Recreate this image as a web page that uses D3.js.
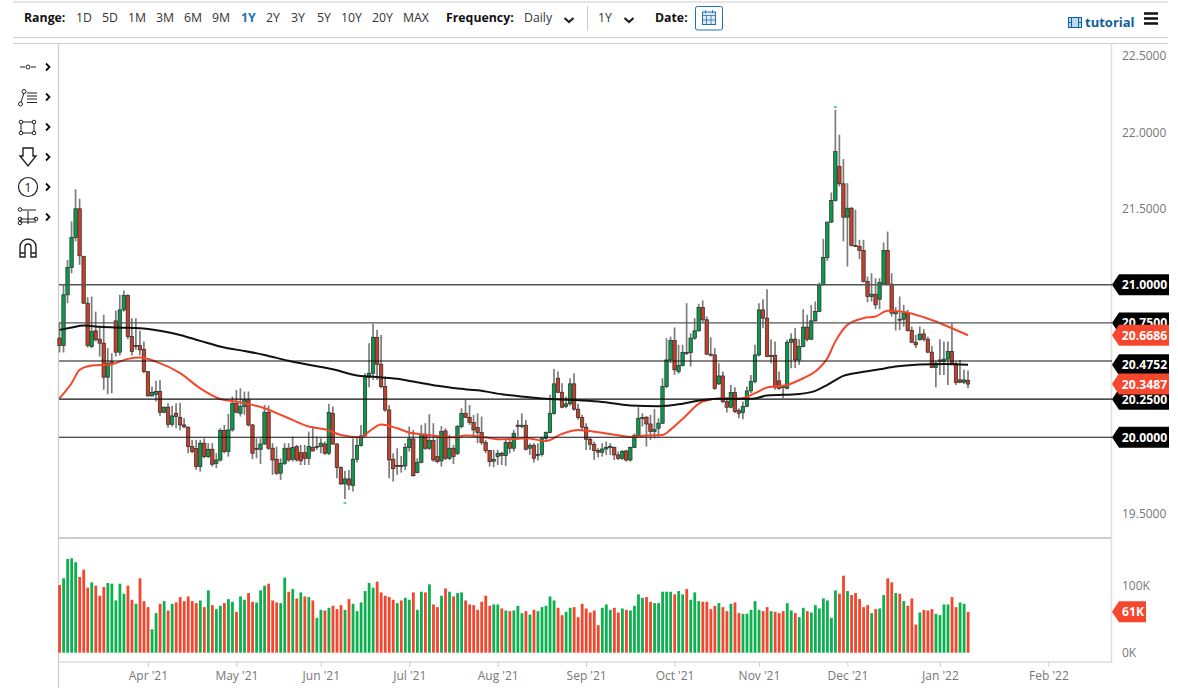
<!DOCTYPE html>
<html lang="en">
<head>
<meta charset="utf-8">
<script src="https://d3js.org/d3.v7.min.js"></script>
<style>
  html, body { margin: 0; padding: 0; background: #fff; overflow: hidden; }
  text { font-family: "Open Sans", sans-serif; }
</style>
</head>
<body>
<svg id="chart" width="1178" height="690"></svg>
<script>
// daily candles
const opens = [
20.650,20.601,20.934,21.113,21.310,21.498,21.185,20.879,20.595,20.698,
20.643,20.617,20.394,20.496,20.763,20.558,20.835,20.929,20.660,20.601,
20.601,20.577,20.431,20.271,20.282,20.300,20.164,20.197,20.085,20.157,
20.131,20.081,20.066,19.939,19.926,19.808,19.961,19.873,19.921,19.829,
19.851,20.044,19.906,20.048,20.223,20.157,20.201,20.245,20.081,19.928,
19.921,19.956,20.164,19.928,19.856,19.764,19.829,19.928,19.856,19.939,
19.899,19.899,19.862,19.932,19.939,19.939,19.956,19.895,20.157,19.956,
19.803,19.694,19.727,19.683,19.856,19.945,20.009,20.394,20.420,20.654,
20.479,20.332,20.179,19.856,19.816,19.814,19.812,19.932,19.989,19.768,
19.836,20.020,19.928,19.978,19.873,19.845,20.042,19.862,19.928,19.893,
20.070,20.157,20.131,20.096,20.063,20.031,19.965,19.913,19.843,19.873,
19.895,19.880,19.965,19.928,20.079,20.070,20.079,19.928,19.948,19.880,
19.888,19.993,20.031,20.157,20.387,20.295,20.201,20.219,20.350,20.184,
20.129,20.066,19.987,19.954,19.913,19.902,19.923,19.932,19.934,19.884,
19.862,19.910,19.851,19.932,20.011,20.129,20.131,20.087,20.037,20.059,
20.092,20.332,20.507,20.634,20.431,20.470,20.551,20.555,20.650,20.698,
20.851,20.770,20.545,20.540,20.350,20.402,20.234,20.197,20.293,20.175,
20.162,20.201,20.304,20.365,20.540,20.835,20.781,20.536,20.536,20.370,
20.332,20.321,20.623,20.643,20.507,20.595,20.722,20.643,20.763,20.824,
20.999,21.179,21.411,21.553,21.776,21.662,21.443,21.502,21.258,21.251,
21.225,21.021,20.923,20.938,20.905,21.006,21.225,21.004,20.809,20.770,
20.774,20.814,20.700,20.623,20.639,20.678,20.643,20.558,20.457,20.507,
20.496,20.512,20.562,20.481,20.376,20.361,20.372];
const highs = [
20.748,21.000,21.163,21.415,21.627,21.564,21.190,20.919,20.923,20.824,
20.726,20.803,20.584,20.551,20.831,20.934,20.962,20.938,20.781,20.781,
20.698,20.628,20.435,20.332,20.370,20.376,20.201,20.223,20.206,20.223,
20.227,20.125,20.070,19.983,19.983,19.983,19.993,19.961,19.961,19.895,
20.059,20.081,20.153,20.267,20.311,20.321,20.300,20.300,20.085,19.993,
19.993,20.212,20.208,19.961,19.939,19.862,19.961,19.961,20.004,19.950,
19.950,19.950,20.037,20.070,20.004,19.993,19.972,20.219,20.201,19.961,
19.808,19.781,19.786,19.993,20.004,20.081,20.420,20.617,20.744,20.704,
20.671,20.398,20.212,19.895,19.928,19.878,19.961,20.070,20.048,19.862,
20.081,20.092,20.151,20.092,20.004,20.074,20.059,20.015,19.950,20.081,
20.190,20.245,20.212,20.147,20.157,20.136,19.983,19.917,19.917,19.917,
19.906,19.987,19.993,20.048,20.114,20.157,20.114,19.961,19.961,19.961,
20.004,20.037,20.278,20.448,20.431,20.354,20.267,20.387,20.420,20.219,
20.147,20.092,20.004,19.972,19.928,19.961,19.972,19.961,19.939,19.906,
19.917,19.917,19.939,20.026,20.197,20.157,20.140,20.147,20.184,20.125,
20.387,20.650,20.660,20.720,20.606,20.606,20.879,20.682,20.781,20.875,
20.897,20.792,20.656,20.584,20.486,20.431,20.256,20.343,20.328,20.190,
20.234,20.332,20.409,20.606,20.879,20.905,20.971,20.643,20.628,20.431,
20.332,20.639,20.682,20.715,20.643,20.840,20.803,20.868,20.890,21.015,
21.301,21.411,21.605,22.148,21.984,21.824,21.666,21.509,21.492,21.295,
21.295,21.054,21.076,21.043,21.043,21.277,21.349,21.076,20.853,20.923,
20.868,20.835,20.726,20.671,20.726,20.709,20.660,20.599,20.503,20.643,
20.628,20.628,20.748,20.496,20.507,20.442,20.437];
const lows = [
20.556,20.556,20.879,21.076,21.284,21.131,20.875,20.588,20.584,20.628,
20.529,20.311,20.282,20.289,20.529,20.536,20.824,20.643,20.536,20.573,
20.536,20.420,20.267,20.267,20.234,20.140,20.157,20.063,20.070,20.059,
20.044,20.059,19.895,19.895,19.786,19.775,19.862,19.862,19.808,19.797,
19.840,19.895,19.873,20.037,20.157,20.136,20.147,20.070,19.856,19.862,
19.825,19.950,19.917,19.753,19.753,19.720,19.818,19.840,19.840,19.840,
19.818,19.818,19.818,19.906,19.917,19.895,19.884,19.884,19.950,19.731,
19.687,19.595,19.654,19.644,19.834,19.939,20.004,20.328,20.376,20.376,
20.321,20.168,19.731,19.709,19.753,19.768,19.786,19.906,19.742,19.764,
19.829,19.917,19.917,19.840,19.829,19.808,19.851,19.851,19.825,19.884,
20.059,20.125,20.081,20.004,19.961,19.950,19.895,19.808,19.803,19.818,
19.818,19.812,19.895,19.906,20.004,20.059,19.913,19.884,19.834,19.847,
19.873,19.972,20.026,20.147,20.289,20.190,20.190,20.206,20.173,20.114,
20.048,19.917,19.917,19.851,19.867,19.873,19.884,19.884,19.851,19.851,
19.851,19.840,19.840,19.928,20.004,20.070,19.939,19.983,19.993,20.004,
20.087,20.321,20.486,20.409,20.416,20.464,20.540,20.464,20.639,20.693,
20.748,20.540,20.529,20.311,20.343,20.223,20.162,20.190,20.157,20.125,
20.118,20.197,20.289,20.354,20.529,20.715,20.525,20.486,20.311,20.311,
20.256,20.315,20.453,20.453,20.475,20.590,20.628,20.639,20.759,20.820,
20.995,21.157,21.404,21.546,21.645,21.284,21.120,21.251,21.247,21.168,
21.015,20.886,20.890,20.840,20.840,20.999,20.999,20.792,20.700,20.704,
20.726,20.693,20.617,20.584,20.634,20.628,20.551,20.453,20.328,20.409,
20.409,20.343,20.475,20.343,20.354,20.350,20.321];
const closes = [
20.601,20.934,21.113,21.310,21.498,21.190,20.879,20.601,20.693,20.639,
20.617,20.394,20.486,20.479,20.558,20.835,20.929,20.660,20.562,20.597,
20.573,20.431,20.271,20.295,20.300,20.164,20.197,20.085,20.140,20.136,
20.081,20.068,19.939,19.906,19.808,19.961,19.873,19.921,19.823,19.851,
20.044,19.906,20.048,20.223,20.164,20.201,20.245,20.081,19.895,19.921,
19.956,20.164,19.928,19.851,19.764,19.829,19.928,19.851,19.932,19.851,
19.845,19.862,19.939,19.910,19.932,19.961,19.895,20.164,19.956,19.803,
19.694,19.727,19.687,19.856,19.945,20.009,20.398,20.420,20.656,20.479,
20.332,20.179,19.851,19.794,19.812,19.812,19.932,19.989,19.748,19.836,
20.020,19.928,19.978,19.851,19.840,20.037,19.862,19.928,19.873,20.070,
20.157,20.131,20.096,20.048,20.031,19.965,19.913,19.840,19.856,19.895,
19.880,19.965,19.928,20.026,20.070,20.079,19.921,19.945,19.862,19.888,
19.993,20.031,20.157,20.350,20.295,20.197,20.219,20.350,20.184,20.129,
20.066,19.987,19.954,19.913,19.902,19.923,19.934,19.939,19.884,19.862,
19.906,19.851,19.932,20.011,20.125,20.125,20.087,20.037,20.052,20.092,
20.332,20.507,20.634,20.442,20.470,20.555,20.555,20.650,20.698,20.851,
20.770,20.545,20.540,20.321,20.402,20.234,20.197,20.293,20.168,20.157,
20.201,20.304,20.365,20.540,20.835,20.781,20.529,20.529,20.328,20.321,
20.326,20.623,20.643,20.507,20.595,20.722,20.643,20.763,20.824,20.999,
21.179,21.411,21.553,21.874,21.662,21.443,21.502,21.258,21.251,21.225,
21.021,20.923,20.938,20.868,21.015,21.225,21.004,20.814,20.824,20.774,
20.814,20.700,20.623,20.606,20.676,20.643,20.558,20.457,20.486,20.496,
20.512,20.562,20.481,20.359,20.361,20.376,20.3487];

// volume in thousands, with its own up/down colouring (1 = green)
const volumes = [
101,111,140,141,135,113,124,97,105,100,85,98,104,103,78,103,88,100,79,73,
111,77,68,35,59,73,77,63,73,75,83,77,84,77,74,78,68,93,71,65,
70,74,80,76,61,84,79,89,76,75,93,100,103,78,75,74,112,91,95,81,
90,84,83,78,52,64,63,67,70,65,71,64,80,73,62,75,92,104,97,106,
90,85,83,79,74,78,82,79,90,64,91,90,102,72,68,85,96,91,84,89,
90,78,72,71,64,76,85,70,72,72,66,63,62,63,70,59,62,57,64,62,
68,70,84,78,67,56,61,67,68,53,73,66,60,63,41,67,72,64,67,60,
66,64,63,70,87,82,83,76,74,74,91,91,91,87,92,87,95,79,90,77,
76,76,65,70,74,68,62,73,75,59,58,58,64,77,64,62,68,62,61,59,
62,74,63,59,53,67,62,60,71,66,81,78,52,93,88,115,92,86,89,80,
68,71,59,65,66,86,111,105,89,88,77,70,81,42,60,64,63,65,58,56,
72,72,83,68,75,73,61];
const volumeUp = [
0,1,1,1,1,0,0,0,1,0,0,0,1,1,1,1,1,0,0,1,
0,0,0,1,1,0,1,0,1,0,0,0,0,0,0,1,0,1,0,1,
1,0,1,1,0,1,1,0,0,1,1,1,0,0,0,1,1,0,1,0,
1,0,1,0,1,1,0,1,0,0,0,1,0,1,1,1,1,1,1,0,
0,0,0,0,1,0,1,1,0,1,1,0,1,0,0,1,0,1,0,1,
1,0,0,0,0,0,0,0,1,1,0,1,0,1,1,1,0,1,0,1,
1,1,1,1,0,0,1,1,0,0,0,0,0,0,0,1,1,1,0,0,
1,0,1,1,1,1,0,0,1,1,1,1,1,0,1,1,0,1,1,1,
0,0,0,0,1,0,0,1,0,0,1,1,1,1,1,0,0,1,0,0,
0,1,1,0,1,1,0,1,1,1,1,1,1,1,0,0,1,0,0,0,
0,0,1,0,1,1,0,0,1,0,1,0,0,0,1,0,0,0,1,1,
1,1,0,0,1,1,0];

// moving averages, sampled at a bar index
const sma50Bars = [0,3,5,8,13,17,20,24,30,35,40,44,51,56,62,66,70,75,77,80,84,87,91,95,98,101,105,109,113,116,121,125,129,134,138,142,146,150,152,155,160,165,169,173,176,181,185,188,191,193,196,200,203,206,210,215,218,222,226];
const sma50 = [20.256,20.354,20.442,20.470,20.479,20.514,20.523,20.496,20.420,20.321,20.251,20.234,20.190,20.136,20.070,20.052,20.015,20.000,20.037,20.083,20.059,20.031,20.017,20.004,20.000,20.011,20.004,19.987,19.989,19.993,19.976,20.022,20.048,20.033,20.017,20.002,20.011,20.015,20.050,20.120,20.234,20.256,20.252,20.289,20.326,20.343,20.387,20.431,20.518,20.628,20.737,20.781,20.792,20.829,20.822,20.787,20.759,20.715,20.6686];
const sma200Bars = [0,3,6,10,14,20,25,30,35,41,46,51,57,62,68,74,77,84,88,94,99,104,110,115,121,128,134,138,142,149,155,160,165,172,176,184,188,191,195,200,204,208,214,220,226];
const sma200 = [20.704,20.719,20.733,20.724,20.719,20.715,20.698,20.671,20.632,20.588,20.566,20.540,20.501,20.475,20.446,20.405,20.398,20.383,20.365,20.337,20.319,20.308,20.282,20.267,20.252,20.245,20.234,20.221,20.208,20.203,20.220,20.245,20.252,20.252,20.273,20.284,20.304,20.343,20.402,20.429,20.446,20.464,20.477,20.481,20.4752];

const levels = [21.0, 20.75, 20.5, 20.25, 20.0];
const priceTicks = [22.5, 22.0, 21.5, 19.5];
const volumeTicks = [100, 0];
const monthBars = [22,44,65,87,109,131,153,174,196,219,246];
const monthLabels = ["Apr '21","May '21","Jun '21","Jul '21","Aug '21","Sep '21","Oct '21","Nov '21","Dec '21","Jan '22","Feb '22"];
const blackTags = [[21.0,"21.0000"],[20.75,"20.7500"],[20.4752,"20.4752"],[20.25,"20.2500"],[20.0,"20.0000"]];
const redTags = [[20.6686,"20.6686"],[20.3487,"20.3487"]];
const ranges = [["1D",76],["5D",102],["1M",128],["3M",156],["6M",184],["9M",212],["1Y",241],["2Y",266],["3Y",291],["5Y",317],["10Y",341],["20Y",372],["MAX",403]];

const svg = d3.select("#chart");
const lightLine = "#ccc";
const green = "#0b9a4c", red = "#c4402a";
const volGreen = "#0cb14f", volRed = "#f4462c";

// scales: bar index on x, price and volume on y
const x = d3.scaleLinear().domain([0, 284]).range([59.5, 59.5 + 284 * 4.02]);
const y = d3.scaleLinear().domain([19.5, 22.5]).range([513.5, 56]);
const yVol = d3.scaleLinear().domain([0, 100]).range([652.7, 585.7]);

// frame
const frame = [[13,2,1168,2],[13,37.5,1168,37.5],[13,43.5,1168,43.5]];
svg.selectAll("line.frame").data(frame).join("line").attr("class","frame")
  .attr("x1",d=>d[0]).attr("y1",d=>d[1]).attr("x2",d=>d[2]).attr("y2",d=>d[3])
  .attr("stroke",lightLine).attr("stroke-width",1);
svg.append("line").attr("x1",58.5).attr("x2",58.5).attr("y1",43).attr("y2",688).attr("stroke",lightLine).attr("stroke-width",1.2);
svg.append("line").attr("x1",1111.5).attr("x2",1111.5).attr("y1",43).attr("y2",663).attr("stroke","#ddd").attr("stroke-width",1.5);
svg.append("line").attr("x1",59).attr("x2",1111).attr("y1",538).attr("y2",538).attr("stroke","#bbb").attr("stroke-width",1.5);
svg.append("line").attr("x1",587.5).attr("x2",587.5).attr("y1",6).attr("y2",31).attr("stroke",lightLine);

// volume bars
svg.append("g").selectAll("rect").data(volumes).join("rect")
  .attr("x",(d,i)=>x(i)-1.3).attr("width",2.8)
  .attr("y",d=>yVol(d)).attr("height",d=>yVol(0)-yVol(d))
  .attr("fill",(d,i)=>volumeUp[i]?volGreen:volRed);

// candles
const candles = svg.append("g");
candles.selectAll("line").data(opens).join("line")
  .attr("x1",(d,i)=>x(i)).attr("x2",(d,i)=>x(i))
  .attr("y1",(d,i)=>y(highs[i])).attr("y2",(d,i)=>y(lows[i]))
  .attr("stroke","#7c7c7c").attr("stroke-width",1.7);
candles.selectAll("rect").data(opens).join("rect")
  .attr("x",(d,i)=>x(i)-1.7).attr("width",3.4)
  .attr("y",(d,i)=>y(Math.max(d,closes[i])))
  .attr("height",(d,i)=>Math.max(1,Math.abs(y(d)-y(closes[i]))))
  .attr("fill",(d,i)=>closes[i]>=d?green:red)
  .attr("stroke","#2a2a2a").attr("stroke-width",0.7);

// extreme markers above the high and below the low
const hiBar = d3.maxIndex(highs), loBar = d3.minIndex(lows);
svg.selectAll("rect.extreme").data([[hiBar,y(highs[hiBar])-3.5],[loBar,y(lows[loBar])+3]]).join("rect")
  .attr("class","extreme").attr("x",d=>x(d[0])-1.5).attr("y",d=>d[1]).attr("width",3).attr("height",1.8).attr("fill","#4fc9a0");

// moving averages
const smaLine = bars => d3.line().x((d,i)=>x(bars[i])).y(d=>y(d)).curve(d3.curveMonotoneX);
svg.append("path").attr("d",smaLine(sma50Bars)(sma50)).attr("fill","none").attr("stroke","#f4472d").attr("stroke-width",2);
svg.append("path").attr("d",smaLine(sma200Bars)(sma200)).attr("fill","none").attr("stroke","#111").attr("stroke-width",2);

// horizontal levels
svg.append("g").selectAll("line").data(levels).join("line")
  .attr("x1",59).attr("x2",1112).attr("y1",d=>y(d)).attr("y2",d=>y(d))
  .attr("stroke",d=>d>=20.75?"#555":"#111").attr("stroke-width",d=>d>=20.75?1.3:1.1);

// price axis
const priceAxis = d3.axisRight(y).tickValues(priceTicks).tickSize(0).tickFormat(d3.format(".4f"));
const gp = svg.append("g").attr("transform","translate(1122,0)").call(priceAxis);
gp.select(".domain").remove();
gp.selectAll("text").attr("x",0).attr("fill","#777").style("font-size","12px").style("font-family",'"Open Sans", sans-serif');

// volume axis
const volAxis = d3.axisRight(yVol).tickValues(volumeTicks).tickSize(0).tickFormat(d=>d+"K");
const gv = svg.append("g").attr("transform","translate(1122,0)").call(volAxis);
gv.select(".domain").remove();
gv.selectAll("text").attr("x",0).attr("fill","#777").style("font-size","12px").style("font-family",'"Open Sans", sans-serif');

// month axis
const monthAxis = d3.axisBottom(x).tickValues(monthBars).tickSize(5).tickPadding(4).tickFormat((d,i)=>monthLabels[i]);
const gm = svg.append("g").attr("transform","translate(0,662)").call(monthAxis);
gm.select(".domain").attr("d","M59,0H1112").attr("stroke","#ddd").attr("stroke-width",1.5);
gm.selectAll("line").attr("stroke","#ccc");
gm.selectAll("text").attr("fill","#777").style("font-size","12px").style("font-family",'"Open Sans", sans-serif');

// value tags on the right
function tag(yPos, label, fill, right) {
  const g = svg.append("g").attr("transform",`translate(1112,${yPos})`);
  g.append("path").attr("d",`M0,0L7,-10.5H${right}V10.5H7Z`).attr("fill",fill);
  g.append("text").attr("x",(right+7)/2+0.5).attr("y",4.5).attr("text-anchor","middle")
    .attr("fill","#fff").attr("font-weight",700).attr("font-size",12.2).text(label);
}
blackTags.forEach(d=>tag(y(d[0]),d[1],"#000",57));
redTags.forEach(d=>tag(y(d[0]),d[1],"#f4472d",57));
tag(yVol(61),"61K","#f4472d",34);

// top toolbar
const bar = svg.append("g").attr("font-size",12.3);
bar.append("text").attr("x",24).attr("y",22).attr("font-weight",700).attr("fill","#111").text("Range:");
bar.selectAll("text.range").data(ranges).join("text").attr("class","range")
  .attr("x",d=>d[1]).attr("y",22)
  .attr("fill",d=>d[0]==="1Y"?"#1a73b8":"#333").attr("font-weight",d=>d[0]==="1Y"?700:400)
  .text(d=>d[0]);
bar.append("text").attr("x",446).attr("y",22).attr("font-weight",700).attr("fill","#111").text("Frequency:");
bar.append("text").attr("x",524).attr("y",22).attr("fill","#333").text("Daily");
bar.append("text").attr("x",598).attr("y",22).attr("fill","#333").text("1Y");
bar.append("text").attr("x",655).attr("y",22).attr("font-weight",700).attr("fill","#111").text("Date:");
[[569,18],[629,18]].forEach(d=>{
  svg.append("path").attr("d",`M${d[0]-4.5},${d[1]}l4.5,4l4.5,-4`).attr("fill","none").attr("stroke","#222").attr("stroke-width",2.2);
});
// calendar button
svg.append("rect").attr("x",695.5).attr("y",6.5).attr("width",27).attr("height",23.5).attr("rx",2).attr("fill","#fff").attr("stroke","#1a73b8");
svg.append("rect").attr("x",702.5).attr("y",12).attr("width",13).attr("height",12.5).attr("fill","#e3ecf6").attr("stroke","#2a6ea8");
svg.append("path").attr("d","M702.5,15.5H715.5M705.5,10V13.5M712.5,10V13.5M706.5,15.5V24.5M711,15.5V24.5M702.5,20H715.5").attr("stroke","#2a6ea8").attr("stroke-width",0.8);
// tutorial link
svg.append("rect").attr("x",1068.5).attr("y",17.5).attr("width",13).attr("height",10).attr("fill","#bcd8ee").attr("stroke","#0f62a0");
svg.append("path").attr("d","M1071.5,17.5V27.5M1078.5,17.5V27.5M1068.5,22.5H1071.5M1078.5,22.5H1081.5").attr("stroke","#0f62a0");
svg.append("text").attr("x",1085).attr("y",27).attr("font-size",13).attr("font-weight",700).attr("fill","#0f5f9c").text("tutorial");
svg.append("path").attr("d","M1144,13.5H1158M1144,18.5H1158M1144,23.5H1158").attr("stroke","#111").attr("stroke-width",2.6);

// drawing tools on the left
const tools = svg.append("g").attr("fill","none").attr("stroke","#222").attr("stroke-width",1);
const chevY = [67,97,127,157,187,217];
svg.append("g").selectAll("path").data(chevY).join("path")
  .attr("d",d=>`M46,${d-3.5}l3.5,3.5l-3.5,3.5`).attr("fill","none").attr("stroke","#111").attr("stroke-width",1.8);
// line tool
tools.append("path").attr("d","M20,67H25M31,67H36");
tools.append("circle").attr("cx",28).attr("cy",67).attr("r",2);
// fib tool
tools.append("path").attr("d","M21,102L24,93");
tools.append("circle").attr("cx",20.5).attr("cy",104).attr("r",2);
tools.append("circle").attr("cx",24).attr("cy",91.5).attr("r",2);
tools.append("path").attr("d","M27,93H37M27,96H37M27,99H37M27,102.5H37").attr("stroke-width",1.2);
// rectangle tool
tools.append("rect").attr("x",21).attr("y",122).attr("width",13).attr("height",11);
[[21,122],[34,122],[21,133],[34,133]].forEach(d=>tools.append("circle").attr("cx",d[0]).attr("cy",d[1]).attr("r",1.8).attr("fill","#fff"));
// arrow tool
tools.append("path").attr("d","M23,148H33V156H36L28,166L20,156H23Z").attr("stroke-width",1.4);
// number tool
tools.append("circle").attr("cx",28).attr("cy",187).attr("r",9.5).attr("stroke-width",1.2);
svg.append("text").attr("x",28).attr("y",191.5).attr("text-anchor","middle").attr("font-size",12).attr("fill","#222").text("1");
// measure tool
tools.append("path").attr("d","M22,210H36M20,219H36M20,222H36M28,211V224").attr("stroke-width",1.1);
tools.append("circle").attr("cx",20).attr("cy",209.5).attr("r",1.8);
tools.append("circle").attr("cx",20).attr("cy",219).attr("r",1.8);
tools.append("circle").attr("cx",20).attr("cy",223).attr("r",1.8);
tools.append("circle").attr("cx",36).attr("cy",219).attr("r",1.8);
// magnet tool
tools.append("path").attr("d","M20,257V247a8,8 0 0 1 16,0V257H31V247a3,3 0 0 0 -6,0V257Z M20,253H25M31,253H36").attr("stroke-width",1.4);
</script>
</body>
</html>
